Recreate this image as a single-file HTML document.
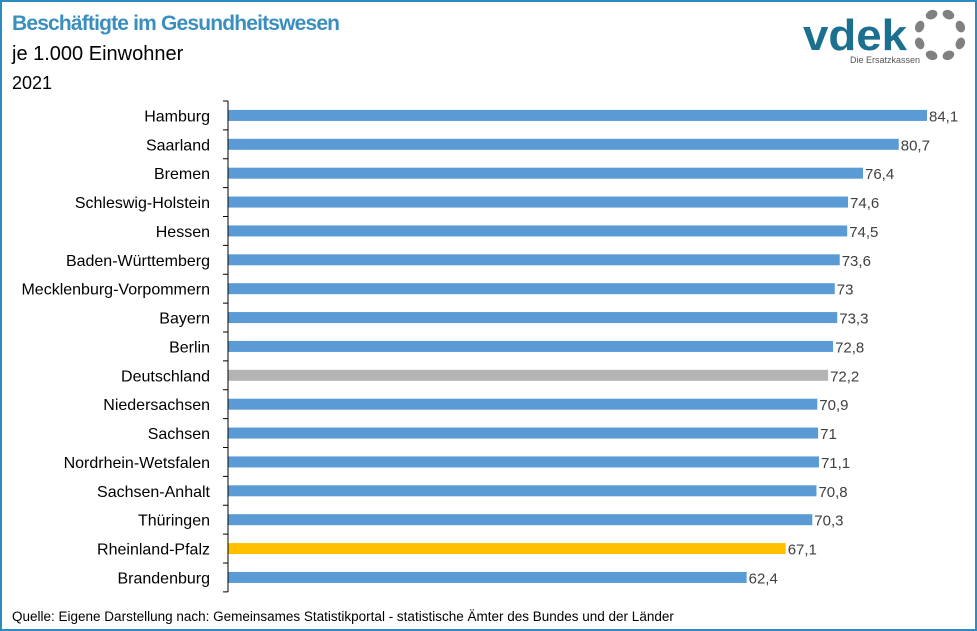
<!DOCTYPE html>
<html><head><meta charset="utf-8"><style>
body{margin:0;background:#fff}
svg{display:block;font-family:"Liberation Sans",sans-serif}
</style></head><body>
<svg width="977" height="631" viewBox="0 0 977 631" xmlns="http://www.w3.org/2000/svg">
<rect x="1" y="1" width="975" height="629" fill="#fff" stroke="#2e8bc0" stroke-width="2"/>
<text x="12" y="30" font-size="21" fill="#3a8fbf" font-weight="bold" textLength="328">Beschäftigte im Gesundheitswesen</text>
<text x="12" y="60" font-size="20" fill="#000">je 1.000 Einwohner</text>
<text x="12" y="89" font-size="18" fill="#000">2021</text>
<g>
<text x="803" y="50" font-size="44" font-weight="bold" fill="#1b6f8f" textLength="104" lengthAdjust="spacingAndGlyphs">vdek</text>
<text x="850" y="63" font-size="9" fill="#555">Die Ersatzkassen</text>
<g fill="#808080" id="ring"></g>
</g>
<g id="bars"></g>
<line x1="228" y1="101" x2="228" y2="592" stroke="#000"/>
<text x="12" y="621" font-size="13.5" fill="#000">Quelle: Eigene Darstellung nach: Gemeinsames Statistikportal - statistische Ämter des Bundes und der Länder</text>
</svg>
<script>
const categories=["Hamburg","Saarland","Bremen","Schleswig-Holstein","Hessen","Baden-Württemberg","Mecklenburg-Vorpommern","Bayern","Berlin","Deutschland","Niedersachsen","Sachsen","Nordrhein-Wetsfalen","Sachsen-Anhalt","Thüringen","Rheinland-Pfalz","Brandenburg"];
const values=[84.1,80.7,76.4,74.6,74.5,73.6,73,73.3,72.8,72.2,70.9,71,71.1,70.8,70.3,67.1,62.4];
const valueLabels=["84,1","80,7","76,4","74,6","74,5","73,6","73","73,3","72,8","72,2","70,9","71","71,1","70,8","70,3","67,1","62,4"];
const NS="http://www.w3.org/2000/svg";
const x0=228, pxPer=699/84.1;
const xs=v=>x0+v*pxPer;
const yTop=101, band=28.875;
const ys=i=>yTop+band*(i+0.5);
const g=document.getElementById('bars');
function mk(t,a){const e=document.createElementNS(NS,t);for(const k in a)e.setAttribute(k,a[k]);return e;}
categories.forEach((c,i)=>{
  const y=ys(i);
  let col="#5b9bd5";
  if(c==="Deutschland")col="#b4b4b4";
  if(c==="Rheinland-Pfalz")col="#ffc000";
  const r=mk('rect',{x:x0,y:y-5.5,width:xs(values[i])-x0,height:11,fill:col});
  
  
  g.appendChild(r);
  const t=mk('text',{x:xs(values[i])+2,y:y+6,'font-size':15,fill:'#404040'});
  t.textContent=valueLabels[i];
  
  
  g.appendChild(t);
  const l=mk('text',{x:210,y:y+6,'font-size':16,'text-anchor':'end',fill:'#000'});
  l.textContent=c;
  
  
  g.appendChild(l);
});
for(let i=0;i<=categories.length;i++){
  const yy=yTop+band*i;
  const tk=mk('line',{x1:223,x2:228,y1:yy,y2:yy,stroke:'#000'});
  
  
  g.appendChild(tk);
}
const ring=document.getElementById('ring');
for(let k=0;k<8;k++){
  const a=k*Math.PI/4+Math.PI/8;
  const c=mk('ellipse',{cx:940+22*Math.cos(a),cy:35+22*Math.sin(a),rx:6,ry:4.5,transform:`rotate(${a*180/Math.PI+90} ${940+22*Math.cos(a)} ${35+22*Math.sin(a)})`});
  
  
  ring.appendChild(c);
}
</script>
</body></html>
